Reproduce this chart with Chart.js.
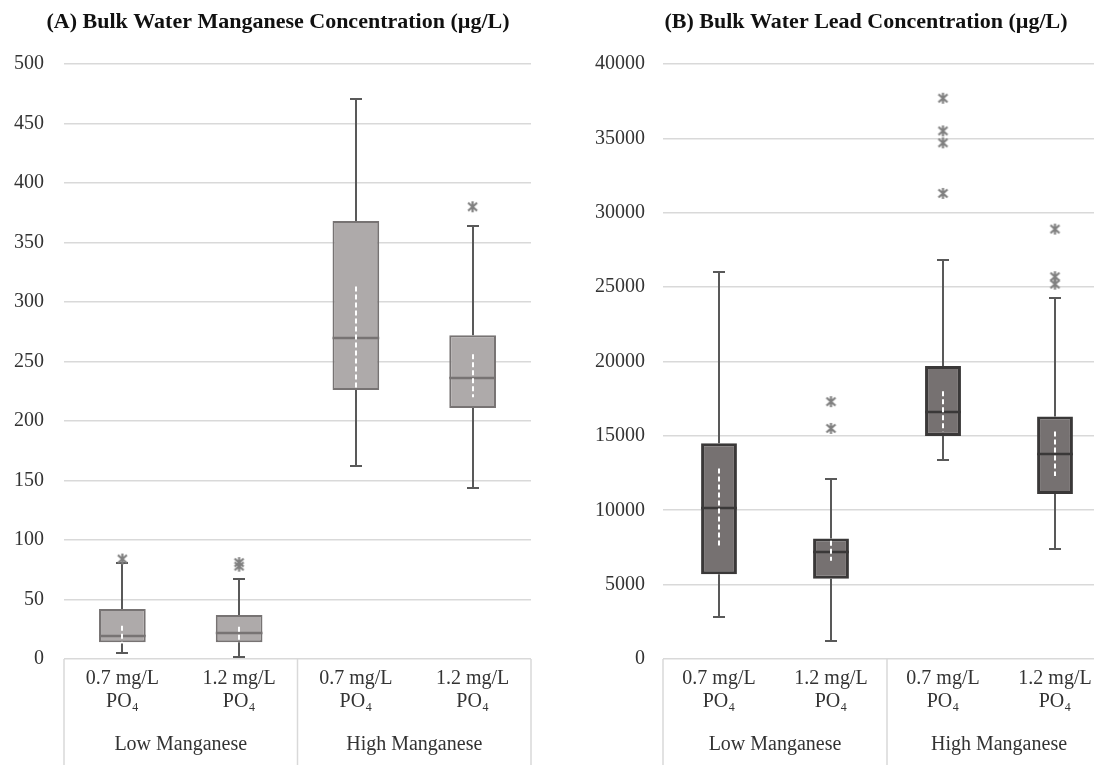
<!DOCTYPE html>
<html>
<head>
<meta charset="utf-8">
<script src="https://cdn.jsdelivr.net/npm/chart.js@4.4.1/dist/chart.umd.min.js"></script>
<style>
  html, body { margin: 0; padding: 0; background: #fff; width: 1094px; height: 765px; overflow: hidden; position: relative; }
  canvas { position: absolute; top: 0; }
  #mn { left: 0; }
  #pb { left: 547px; }
</style>
</head>
<body>
<canvas id="mn" width="556" height="765"></canvas>
<canvas id="pb" width="638" height="765"></canvas>
<script>
const categories = [["0.7 mg/L", "PO₄"], ["1.2 mg/L", "PO₄"], ["0.7 mg/L", "PO₄"], ["1.2 mg/L", "PO₄"]];
const groups = ["Low Manganese", "High Manganese"];

// manganese, µg/L
const mnMin = [5, 2, 162, 144];
const mnQ1 = [14, 14, 226, 211];
const mnMedian = [19, 22, 270, 236];
const mnQ3 = [42, 37, 368, 272];
const mnMax = [81, 67, 471, 364];
const mnCiLow = [13, 16, 227, 220];
const mnCiHigh = [28, 27, 313, 256];
const mnOutlierAt = [0, 1, 1, 3];
const mnOutlierValue = [84, 81, 78, 380];
const mnAxisMax = 500;
const mnAxisStep = 50;

// lead, µg/L
const pbMin = [2800, 1200, 13400, 7400];
const pbQ1 = [5700, 5400, 15000, 11100];
const pbMedian = [10150, 7200, 16600, 13800];
const pbQ3 = [14500, 8100, 19700, 16300];
const pbMax = [26000, 12100, 26800, 24300];
const pbCiLow = [7600, 6600, 15300, 12300];
const pbCiHigh = [12800, 7950, 18000, 15300];
const pbOutlierAt = [1, 1, 2, 2, 2, 2, 3, 3, 3];
const pbOutlierValue = [17300, 15500, 37700, 35500, 34700, 31300, 28900, 25700, 25200];
const pbAxisMax = 40000;
const pbAxisStep = 5000;

const FONT = "'Liberation Serif', 'Times New Roman', serif";
const GRID = '#d9d9d9';
const TEXT = '#333333';

// asterisk marker used for outliers
function starMarker(color) {
  const c = document.createElement('canvas');
  c.width = 13; c.height = 13;
  const g = c.getContext('2d');
  g.strokeStyle = color;
  g.lineWidth = 2.2;
  g.beginPath();
  g.moveTo(2, 2.5); g.lineTo(11, 10.5);
  g.moveTo(11, 2.5); g.lineTo(2, 10.5);
  g.moveTo(6.5, 1); g.lineTo(6.5, 12);
  g.stroke();
  return c;
}

// whiskers, medians and the dashed median interval
function boxPlugin(s) {
  return {
    id: 'boxParts',
    beforeDatasetsDraw(chart) {
      const { ctx, scales: { x, y } } = chart;
      ctx.save();
      ctx.strokeStyle = s.whisker;
      ctx.lineWidth = 2;
      s.min.forEach((lo, i) => {
        const cx = Math.round(x.getPixelForValue(i));
        [[s.q1[i], lo], [s.q3[i], s.max[i]]].forEach(([from, to]) => {
          const y0 = y.getPixelForValue(from), y1 = Math.round(y.getPixelForValue(to));
          ctx.beginPath();
          ctx.moveTo(cx, y0); ctx.lineTo(cx, y1);
          ctx.moveTo(cx - 6, y1); ctx.lineTo(cx + 6, y1);
          ctx.stroke();
        });
      });
      ctx.restore();
    },
    afterDatasetsDraw(chart) {
      const { ctx, scales: { x, y } } = chart;
      const half = x.getPixelForValue(1) - x.getPixelForValue(0);
      ctx.save();
      ctx.strokeStyle = s.edge;
      ctx.lineWidth = s.medianWidth;
      s.median.forEach((m, i) => {
        const cx = x.getPixelForValue(i), w = half * s.barPct / 2;
        const py = Math.round(y.getPixelForValue(m));
        ctx.beginPath();
        ctx.moveTo(cx - w, py); ctx.lineTo(cx + w, py);
        ctx.stroke();
      });
      ctx.strokeStyle = '#ffffff';
      ctx.lineWidth = 2;
      ctx.setLineDash([5, 3]);
      s.ciLow.forEach((lo, i) => {
        const cx = Math.round(x.getPixelForValue(i));
        ctx.beginPath();
        ctx.moveTo(cx, y.getPixelForValue(s.ciHigh[i]));
        ctx.lineTo(cx, y.getPixelForValue(lo));
        ctx.stroke();
      });
      ctx.restore();
    }
  };
}

// panel heading
function titlePlugin(text, cx) {
  return {
    id: 'panelTitle',
    afterDraw(chart) {
      const { ctx } = chart;
      ctx.save();
      ctx.fillStyle = '#111';
      ctx.font = `bold 22px ${FONT}`;
      ctx.textAlign = 'center';
      ctx.textBaseline = 'middle';
      ctx.fillText(text, cx, 22);
      ctx.restore();
    }
  };
}

// two-level category frame below the plot
const groupAxis = {
  id: 'groupAxis',
  afterDraw(chart) {
    const { ctx, scales: { x, y } } = chart;
    const mid = (x.getPixelForValue(1) + x.getPixelForValue(2)) / 2;
    ctx.save();
    ctx.strokeStyle = GRID;
    ctx.lineWidth = 1.5;
    [x.left, mid, x.right].forEach(px => {
      ctx.beginPath();
      ctx.moveTo(px, y.bottom);
      ctx.lineTo(px, chart.height);
      ctx.stroke();
    });
    ctx.fillStyle = TEXT;
    ctx.font = `20px ${FONT}`;
    ctx.textAlign = 'center';
    ctx.textBaseline = 'middle';
    ctx.fillText(groups[0], (x.left + mid) / 2, 745);
    ctx.fillText(groups[1], (mid + x.right) / 2, 745);
    ctx.restore();
  }
};

function makeChart(id, cfg) {
  const boxStyle = {
    type: 'bar',
    backgroundColor: cfg.fill,
    borderColor: cfg.edge,
    borderSkipped: false,
    barPercentage: cfg.barPct,
    categoryPercentage: 1,
    grouped: false
  };
  const b = cfg.border;
  return new Chart(document.getElementById(id), {
    type: 'bar',
    data: {
      labels: categories,
      datasets: [
        Object.assign({}, boxStyle, {
          data: cfg.median.map((m, i) => [cfg.q1[i], m]),
          borderWidth: { left: b, right: b, bottom: b, top: 0 }
        }),
        Object.assign({}, boxStyle, {
          data: cfg.q3.map((q, i) => [cfg.median[i], q]),
          borderWidth: { left: b, right: b, bottom: 0, top: b }
        }),
        {
          type: 'scatter',
          xAxisID: 'xo',
          yAxisID: 'y',
          data: cfg.outAt.map((g, i) => ({ x: g, y: cfg.outVal[i] })),
          pointStyle: starMarker('#808080'),
          pointRadius: 6
        }
      ]
    },
    options: {
      responsive: false,
      animation: false,
      devicePixelRatio: 1,
      layout: { padding: { left: 0, right: cfg.padRight, top: 64, bottom: 0 } },
      plugins: {
        legend: { display: false },
        tooltip: { enabled: false },
        title: { display: false }
      },
      scales: {
        x: {
          grid: { display: false },
          border: { display: false },
          ticks: {
            color: TEXT,
            font: { family: FONT, size: 20, lineHeight: 1.15 },
            padding: 0,
            maxRotation: 0,
            autoSkip: false
          },
          afterFit(scale) { scale.height = 106; }
        },
        xo: { type: 'linear', display: false, offset: false, min: -0.5, max: 3.5 },
        y: {
          min: 0,
          max: cfg.axisMax,
          border: { display: false },
          grid: { color: GRID, lineWidth: 1.6, drawTicks: false },
          ticks: {
            stepSize: cfg.axisStep,
            color: TEXT,
            font: { family: FONT, size: 20 },
            padding: cfg.tickPad,
            callback: v => String(v)
          },
          afterFit(scale) { scale.width = cfg.axisWidth; }
        }
      }
    },
    plugins: [boxPlugin({
      min: cfg.min, q1: cfg.q1, median: cfg.median, q3: cfg.q3, max: cfg.max,
      ciLow: cfg.ciLow, ciHigh: cfg.ciHigh, whisker: '#595959',
      edge: cfg.edge, barPct: cfg.barPct, medianWidth: cfg.medianWidth
    }), groupAxis, titlePlugin(cfg.title, cfg.titleX)]
  });
}

makeChart('mn', {
  title: '(A) Bulk Water Manganese Concentration (µg/L)', titleX: 278,
  min: mnMin, q1: mnQ1, median: mnMedian, q3: mnQ3, max: mnMax,
  ciLow: mnCiLow, ciHigh: mnCiHigh, outAt: mnOutlierAt, outVal: mnOutlierValue,
  axisMax: mnAxisMax, axisStep: mnAxisStep,
  fill: '#aeaaaa', edge: '#777373', barPct: 0.4, border: 2, medianWidth: 2.5,
  axisWidth: 64, tickPad: 20, padRight: 25
});

makeChart('pb', {
  title: '(B) Bulk Water Lead Concentration (µg/L)', titleX: 319,
  min: pbMin, q1: pbQ1, median: pbMedian, q3: pbQ3, max: pbMax,
  ciLow: pbCiLow, ciHigh: pbCiHigh, outAt: pbOutlierAt, outVal: pbOutlierValue,
  axisMax: pbAxisMax, axisStep: pbAxisStep,
  fill: '#767171', edge: '#3a3838', barPct: 0.32, border: 3, medianWidth: 2.5,
  axisWidth: 116, tickPad: 18, padRight: 74
});
</script>
</body>
</html>
